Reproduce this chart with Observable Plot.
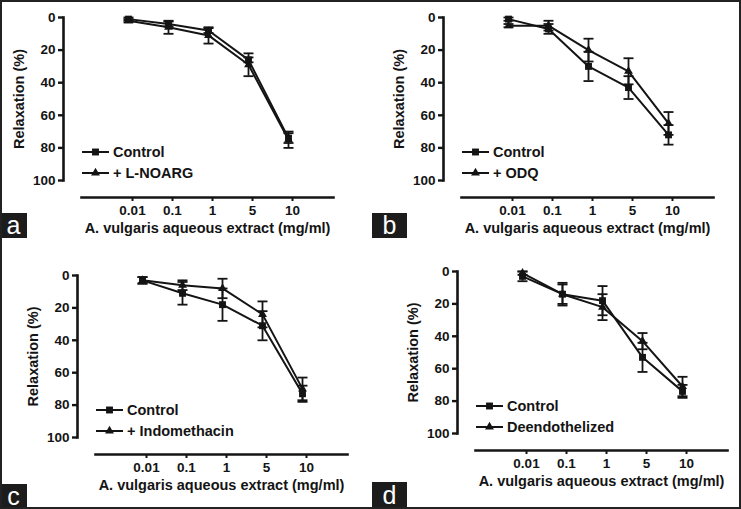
<!DOCTYPE html>
<html><head><meta charset="utf-8">
<script src="https://cdn.jsdelivr.net/npm/d3@7"></script>
<script src="https://cdn.jsdelivr.net/npm/@observablehq/plot@0.6"></script>
<style>
body{margin:0;background:#fff;}
#fig{position:relative;width:741px;height:509px;overflow:hidden;background:#fff;font-family:Arial,"Liberation Sans",sans-serif;}
#frame{position:absolute;left:0;top:0;width:741px;height:509px;box-sizing:border-box;border:2px solid #222;pointer-events:none;}
.panel{position:absolute;}
.tag{position:absolute;background:#1c1c1c;color:#fff;font-size:25px;text-align:center;font-family:Arial,"Liberation Sans",sans-serif;}
#legend{position:absolute;left:0;top:0;}
</style></head>
<body>
<div id="fig"></div>
<script>
// ---- data ----
const doses = ["0.01", "0.1", "1", "5", "10"];
const yTicks = [0, 20, 40, 60, 80, 100];
const xTitle = "A. vulgaris aqueous extract (mg/ml)";
const yTitle = "Relaxation (%)";
const panelTags = ["a", "b", "c", "d"];
const treatmentNames = ["+ L-NOARG", "+ ODQ", "+ Indomethacin", "Deendothelized"];

const controlA = [1, 4, 8, 26, 74];
const controlAErr = [1, 1.5, 1.5, 1.5, 3];
const lnoarg = [2, 6, 11, 29, 75];
const lnoargErr = [1, 4, 5, 7, 5];

const controlB = [1, 7, 30, 43, 72];
const controlBErr = [1, 3, 9, 7, 6];
const odq = [5, 5, 20, 33, 65];
const odqErr = [1, 3, 7, 8, 7];

const controlC = [3, 11, 18, 31, 73];
const controlCErr = [2, 7, 10, 9, 5];
const indomethacin = [3, 6, 8, 24, 70];
const indomethacinErr = [2, 3, 6, 8, 7];

const controlD = [3, 14, 18, 53, 74];
const controlDErr = [3, 7, 9, 9, 4];
const deendothelized = [1, 14, 22, 43, 71];
const deendothelizedErr = [1, 6, 8, 5, 6];

// ---- layout ----
const INK = "#141414";
const FRAME_W = 270;
const layouts = [
  {px: 0,   py: 0,   ax: 63, y0: 17, y100: 180, tag: {l: 0,   t: 213, w: 27, h: 25}},
  {px: 370, py: 0,   ax: 73, y0: 17, y100: 180, tag: {l: 372, t: 213, w: 35, h: 25}},
  {px: 0,   py: 254, ax: 77, y0: 21, y100: 183, tag: {l: 0,   t: 484, w: 27, h: 25}},
  {px: 370, py: 254, ax: 87, y0: 17, y100: 179, tag: {l: 372, t: 482, w: 35, h: 27}}
];
const series = [
  [controlA, controlAErr, lnoarg, lnoargErr],
  [controlB, controlBErr, odq, odqErr],
  [controlC, controlCErr, indomethacin, indomethacinErr],
  [controlD, controlDErr, deendothelized, deendothelizedErr]
];

const cap = {draw(ctx, size) { const w = Math.sqrt(size / Math.PI); ctx.moveTo(-w, 0); ctx.lineTo(w, 0); }};

const fig = document.getElementById("fig");
const W = 370, H = 254;

series.forEach(([c, ce, t, te], k) => {
  const L = layouts[k];
  const trtName = treatmentNames[k];
  const rows = doses.flatMap((d, i) => [
    {dose: d, group: "Control", v: c[i], e: ce[i]},
    {dose: d, group: trtName, v: t[i], e: te[i]}
  ]);
  const ctrlRows = rows.filter(r => r.group === "Control");
  const trtRows = rows.filter(r => r.group !== "Control");
  const svg = Plot.plot({
    width: W, height: H,
    marginLeft: L.ax, marginTop: L.y0, marginBottom: H - L.y100, marginRight: W - (L.ax + FRAME_W),
    style: {fontFamily: "Arial, 'Liberation Sans', sans-serif", fontWeight: "bold", fontSize: "13.5px", color: INK, background: "transparent", overflow: "visible"},
    x: {type: "point", domain: doses, range: [L.ax + 44, L.ax + 245]},
    y: {domain: [0, 100], range: [L.y0, L.y100]},
    marks: [
      Plot.frame({anchor: "left", stroke: INK, strokeWidth: 2.6}),
      Plot.frame({anchor: "bottom", dy: 17, insetLeft: 18, stroke: INK, strokeWidth: 2.6}),
      Plot.axisY({ticks: yTicks, tickSize: 5, tickPadding: 3, stroke: INK, strokeWidth: 2.4, fontSize: 13.5, label: null}),
      Plot.axisX({dy: 17, dx: 4, tickSize: 4, tickPadding: 4, stroke: INK, strokeWidth: 2, fontSize: 13.5, label: null}),
      Plot.ruleX(rows, {x: "dose", y1: d => d.v - d.e, y2: d => d.v + d.e, stroke: INK, strokeWidth: 1.8}),
      Plot.dot(rows, {x: "dose", y: d => d.v - d.e, symbol: cap, r: 5, stroke: INK, strokeWidth: 1.8, fill: "none"}),
      Plot.dot(rows, {x: "dose", y: d => d.v + d.e, symbol: cap, r: 5, stroke: INK, strokeWidth: 1.8, fill: "none"}),
      Plot.line(rows, {x: "dose", y: "v", z: "group", stroke: INK, strokeWidth: 2}),
      Plot.dot(ctrlRows, {x: "dose", y: "v", symbol: "square", r: 3.9, fill: INK, stroke: "none"}),
      Plot.dot(trtRows, {x: "dose", y: "v", symbol: "triangle", r: 3.3, fill: INK, stroke: "none"}),
      Plot.text([xTitle], {frameAnchor: "bottom", textAnchor: "middle", dx: 9, dy: 52, fontSize: 14.5, fontWeight: "bold", fill: INK}),
      Plot.text([yTitle], {frameAnchor: "middle", textAnchor: "middle", lineAnchor: "middle", dx: -44 - FRAME_W / 2, rotate: -90, fontSize: 14.5, fontWeight: "bold", fill: INK})
    ]
  });
  svg.classList.add("panel");
  svg.style.left = L.px + "px";
  svg.style.top = L.py + "px";
  svg.style.position = "absolute";
  fig.appendChild(svg);

  const tag = document.createElement("div");
  tag.className = "tag";
  tag.textContent = panelTags[k];
  Object.assign(tag.style, {left: L.tag.l + "px", top: L.tag.t + "px", width: L.tag.w + "px", height: L.tag.h + "px", lineHeight: L.tag.h + "px"});
  fig.appendChild(tag);
});

// ---- legends ----
const lg = d3.select(fig).append("svg").attr("id", "legend").attr("width", 741).attr("height", 509);
layouts.forEach((L, k) => {
  const x0 = L.px + L.ax + 19, yb = L.py + L.y0 + 135;
  const entries = [{name: "Control", sym: d3.symbolSquare, size: Math.PI * 3.9 * 3.9}, {name: treatmentNames[k], sym: d3.symbolTriangle, size: Math.PI * 3.3 * 3.3}];
  entries.forEach((e, j) => {
    const y = yb + j * 21;
    lg.append("line").attr("x1", x0).attr("x2", x0 + 27).attr("y1", y).attr("y2", y).attr("stroke", INK).attr("stroke-width", 2);
    lg.append("path").attr("d", d3.symbol(e.sym, e.size)()).attr("transform", `translate(${x0 + 13.5},${y})`).attr("fill", INK);
    lg.append("text").attr("x", x0 + 31).attr("y", y).attr("dy", "0.36em").attr("fill", INK)
      .attr("font-family", "Arial, 'Liberation Sans', sans-serif").attr("font-weight", "bold").attr("font-size", 14.5).text(e.name);
  });
});

const fr = document.createElement("div");
fr.id = "frame";
fig.appendChild(fr);
</script>
</body></html>
